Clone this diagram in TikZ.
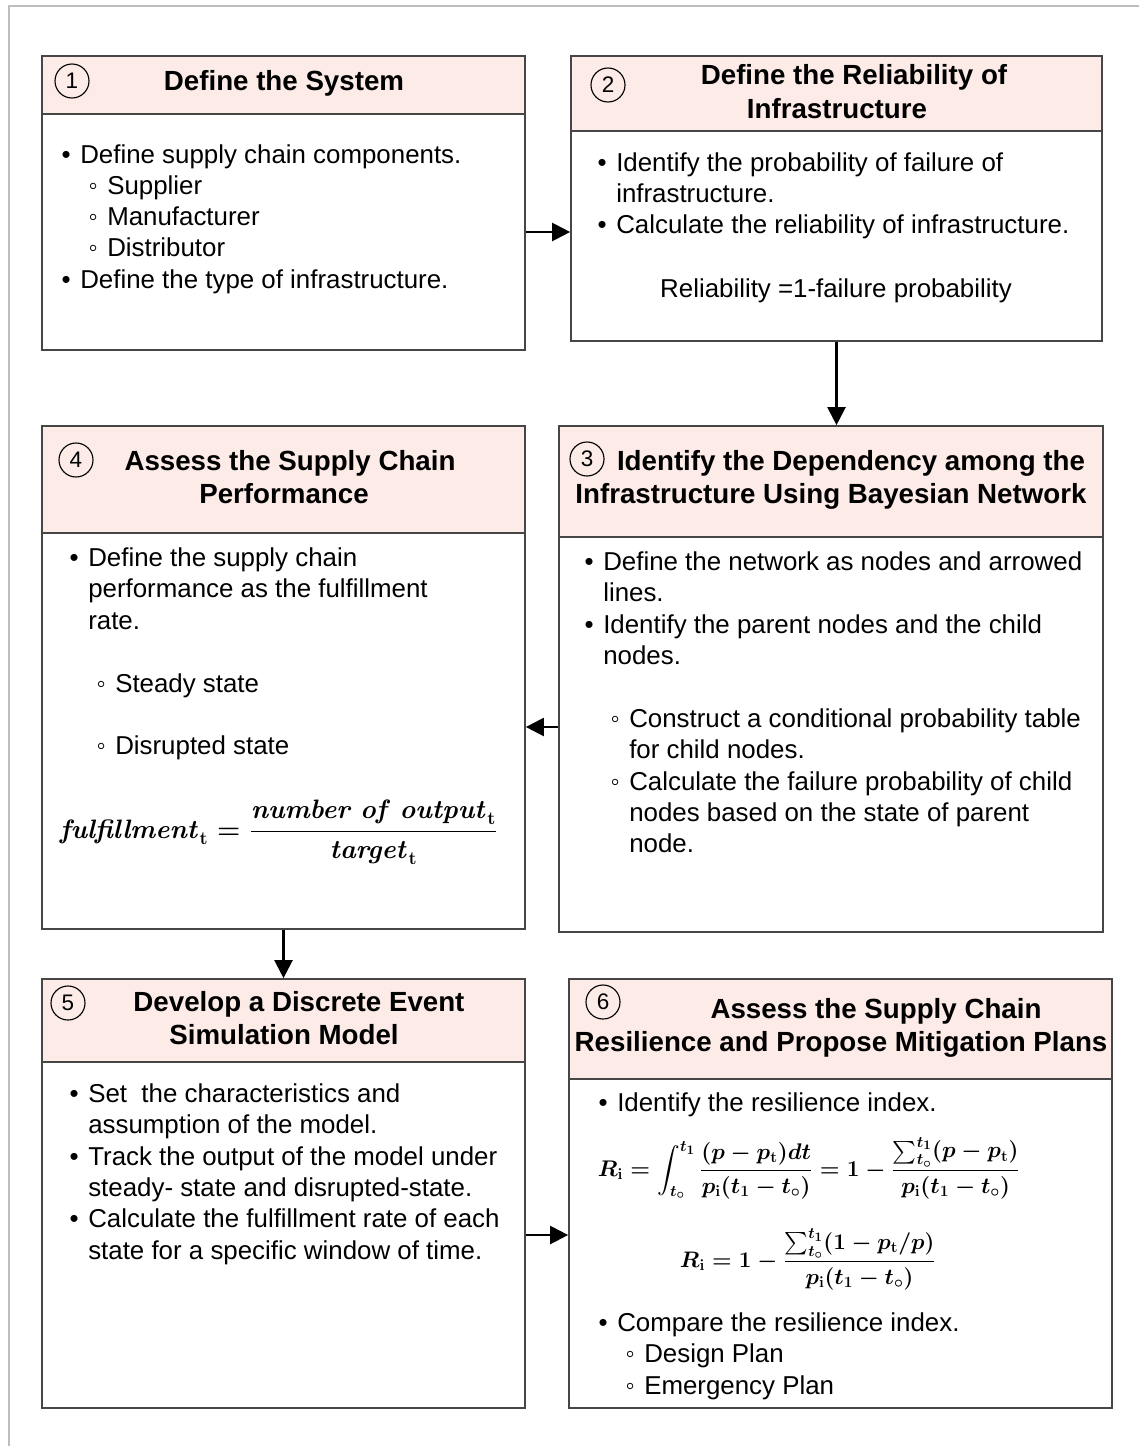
\documentclass[tikz,border=0pt]{standalone}
\usepackage{amsmath}
\usepackage{graphicx}
\usepackage[no-math]{fontspec}
\setmainfont{Liberation Sans}
\usetikzlibrary{arrows.meta,fit,calc}
\definecolor{hdr}{RGB}{252,235,231}
\definecolor{edge}{RGB}{70,70,70}
\definecolor{framecol}{RGB}{190,190,190}
\newcommand{\bu}{\llap{•\hspace{0.24cm}}}
\newcommand{\sbu}{\llap{◦\hspace{0.24cm}}}
\newcommand{\bodyfont}{\fontsize{18.4pt}{22pt}\selectfont}
\newcommand{\headfont}{\fontsize{19.7pt}{24pt}\selectfont\bfseries}
\newcommand{\tO}{t_{\circ}}
\newcommand{\sbt}{_{\mathrm{t}}}
\newcommand{\sbi}{_{\mathrm{i}}}
\newsavebox{\fboxA}
\newsavebox{\fboxB}
\newsavebox{\fboxC}
\begin{document}
\sbox{\fboxA}{\resizebox{10.95cm}{!}{\fontsize{17.28pt}{21pt}\selectfont\boldmath$\displaystyle \mathit{fulfillment}\sbt = \frac{\mathit{number}\ \mathit{of}\ \mathit{output}\sbt}{\mathit{target}\sbt}$}}%
\sbox{\fboxB}{\resizebox{10.55cm}{!}{\fontsize{17.28pt}{21pt}\selectfont\boldmath$\displaystyle R\sbi = \int_{\tO}^{t_1}\frac{(p-p\sbt)dt}{p\sbi(t_1-\tO)} = 1-\frac{\sum_{\tO}^{t_1}(p-p\sbt)}{p\sbi(t_1-\tO)}$}}%
\sbox{\fboxC}{\resizebox{6.4cm}{!}{\fontsize{17.28pt}{21pt}\selectfont\boldmath$\displaystyle R\sbi = 1-\frac{\sum_{\tO}^{t_1}(1-p\sbt/p)}{p\sbi(t_1-\tO)}$}}%
\begin{tikzpicture}[x=0.025cm,y=-0.025cm,
  box/.style={draw=edge, line width=1.2pt, inner sep=0pt},
  hbox/.style={box, fill=hdr},
  tl/.style={anchor=base west, inner sep=0pt, font=\bodyfont},
  tc/.style={anchor=base, inner sep=0pt, font=\bodyfont},
  ht/.style={anchor=base, inner sep=0pt, font=\headfont},
  formula/.style={anchor=center, inner sep=0pt},
  num/.style={circle, draw=black, line width=0.8pt, minimum size=0.85cm, inner sep=0pt, font=\fontsize{16pt}{18pt}\selectfont},
  arr/.style={line width=1.6pt, -{Triangle[length=0.45cm,width=0.45cm]}}]
\useasboundingbox (0,0) rectangle (1139,1446);
% outer frame
\draw[framecol, line width=1.2pt] (9,1446) -- (9,6) -- (1139,6);

% ---------- Box 1
\node[box, fit={(42,114) (525,350)}] (bd1) {};
\node[hbox, fit={(42,56) (525,114)}] (h1) {};
\node[num] (c1) at (72,81) {1};
\node[ht] (h1a) at (284,91) {Define the System};
\node[tl] (t1a) at (80,163) {\bu Define supply chain components.};
\node[tl] (t1b) at (107,194) {\sbu Supplier};
\node[tl] (t1c) at (107,225) {\sbu Manufacturer};
\node[tl] (t1d) at (107,256) {\sbu Distributor};
\node[tl] (t1e) at (80,288) {\bu Define the type of infrastructure.};

% ---------- Box 2
\node[box, fit={(571,131) (1102,341)}] (bd2) {};
\node[hbox, fit={(571,56) (1102,131)}] (h2) {};
\node[num] (c2) at (608,85) {2};
\node[ht] (h2a) at (854,85) {Define the Reliability of};
\node[ht] (h2b) at (837,118) {Infrastructure};
\node[tl] (t2a) at (616,171) {\bu Identify the probability of failure of};
\node[tl] (t2b) at (616,202) {infrastructure.};
\node[tl] (t2c) at (616,233) {\bu Calculate the reliability of infrastructure.};
\node[tc] (t2d) at (836,297) {Reliability =1-failure probability};

% ---------- Box 3
\node[box, fit={(559,537) (1103,932)}] (bd3) {};
\node[hbox, fit={(559,426) (1103,537)}] (h3) {};
\node[num] (c3) at (587,459) {3};
\node[ht] (h3a) at (851,470) {Identify the Dependency among the};
\node[ht] (h3b) at (831,503) {Infrastructure Using Bayesian Network};
\node[tl] (t3a) at (603,570) {\bu Define the network as nodes and arrowed};
\node[tl] (t3b) at (603,601) {lines.};
\node[tl] (t3c) at (603,633) {\bu Identify the parent nodes and the child};
\node[tl] (t3d) at (603,664) {nodes.};
\node[tl] (t3e) at (629,727) {\sbu Construct a conditional probability table};
\node[tl] (t3f) at (629,758) {for child nodes.};
\node[tl] (t3g) at (629,790) {\sbu Calculate the failure probability of child};
\node[tl] (t3h) at (629,821) {nodes based on the state of parent};
\node[tl] (t3i) at (629,852) {node.};

% ---------- Box 4
\node[box, fit={(42,533) (525,929)}] (bd4) {};
\node[hbox, fit={(42,426) (525,533)}] (h4) {};
\node[num] (c4) at (76,460) {4};
\node[ht] (h4a) at (290,470) {Assess the Supply Chain};
\node[ht] (h4b) at (284,503) {Performance};
\node[tl] (t4a) at (88,566) {\bu Define the supply chain};
\node[tl] (t4b) at (88,597) {performance as the fulfillment};
\node[tl] (t4c) at (88,629) {rate.};
\node[tl] (t4d) at (115,692) {\sbu Steady state};
\node[tl] (t4e) at (115,754) {\sbu Disrupted state};
\node[formula] (f4) at (279,832) {\usebox{\fboxA}};

% ---------- Box 5
\node[box, fit={(42,1062) (525,1408)}] (bd5) {};
\node[hbox, fit={(42,979) (525,1062)}] (h5) {};
\node[num] (c5) at (68,1003) {5};
\node[ht] (h5a) at (299,1011) {Develop a Discrete Event};
\node[ht] (h5b) at (284,1044) {Simulation Model};
\node[tl] (t5a) at (88,1102) {\bu Set\ \ the characteristics and};
\node[tl] (t5b) at (88,1133) {assumption of the model.};
\node[tl] (t5c) at (88,1165) {\bu Track the output of the model under};
\node[tl] (t5d) at (88,1196) {steady- state and disrupted-state.};
\node[tl] (t5e) at (88,1227) {\bu Calculate the fulfillment rate of each};
\node[tl] (t5f) at (88,1259) {state for a specific window of time.};

% ---------- Box 6
\node[box, fit={(569,1079) (1112,1408)}] (bd6) {};
\node[hbox, fit={(569,979) (1112,1079)}] (h6) {};
\node[num] (c6) at (603,1002) {6};
\node[ht] (h6a) at (876,1018) {Assess the Supply Chain};
\node[ht] (h6b) at (841,1051) {Resilience and Propose Mitigation Plans};
\node[tl] (t6a) at (617,1111) {\bu Identify the resilience index.};
\node[formula] (f6a) at (809,1168) {\usebox{\fboxB}};
\node[formula] (f6b) at (808,1259) {\usebox{\fboxC}};
\node[tl] (t6b) at (617,1331) {\bu Compare the resilience index.};
\node[tl] (t6c) at (644,1362) {\sbu Design Plan};
\node[tl] (t6d) at (644,1394) {\sbu Emergency Plan};

% ---------- connectors
\draw[arr] (bd1.east) -- (bd1.east -| bd2.west);
\draw[arr] (bd2.south) -- (bd2.south |- h3.north);
\draw[arr] (bd3.west |- t3e.base) -- (bd4.east |- t3e.base);
\draw[arr] (bd4.south) -- (bd4.south |- h5.north);
\draw[arr] (bd5.east) -- (bd5.east -| bd6.west);
\end{tikzpicture}
\end{document}
